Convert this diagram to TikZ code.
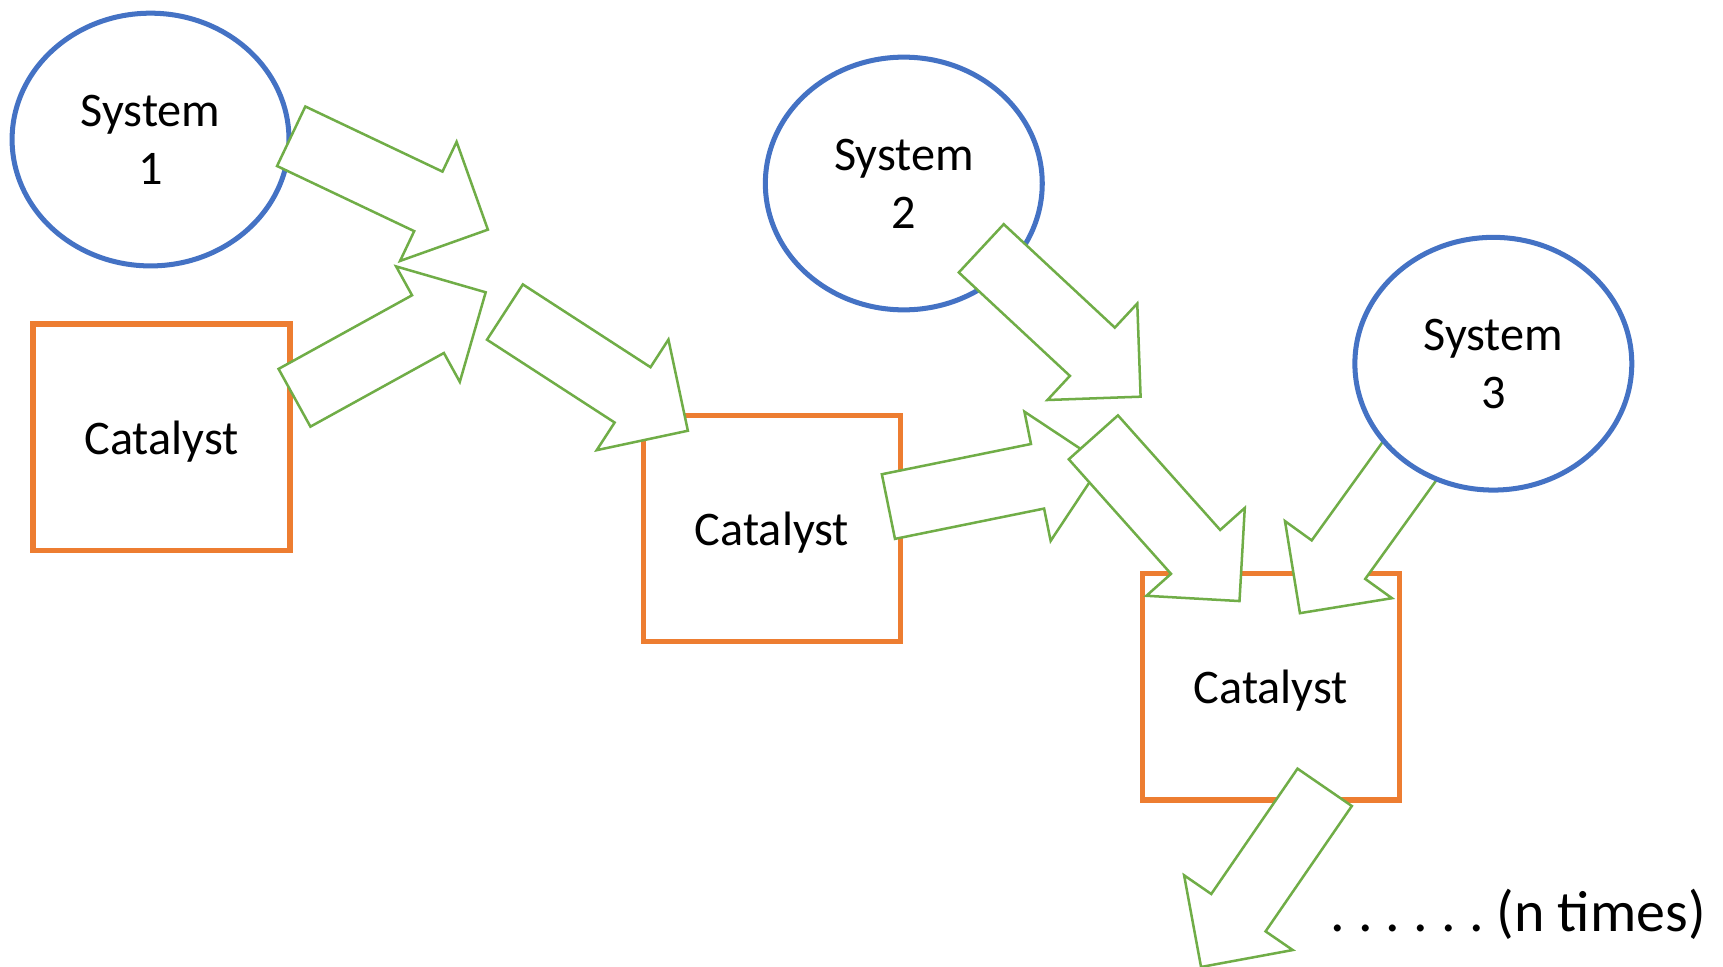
\documentclass[tikz,border=0pt]{standalone}
\usepackage{fontspec}
\setmainfont{Carlito}
\usetikzlibrary{shapes.geometric,calc}
\definecolor{sysblue}{HTML}{4472C4}
\definecolor{catorange}{HTML}{ED7D31}
\definecolor{flowgreen}{HTML}{70AD47}

% block arrow from tail coordinate #1 to tip coordinate #2
\newcommand{\flowarrow}[2]{%
  \coordinate (#2Base) at ($(#2)!0.6cm!(#1)$);
  \draw[flow] ($(#1)!0.3cm!90:(#2)$) -- ($(#2Base)!0.3cm!90:(#2)$) -- ($(#2Base)!0.6cm!90:(#2)$) -- (#2)
    -- ($(#2Base)!0.6cm!-90:(#2)$) -- ($(#2Base)!0.3cm!-90:(#2)$) -- ($(#1)!0.3cm!-90:(#2)$) -- cycle;
}

\begin{document}
\begin{tikzpicture}[x=0.1mm, y=-0.1mm,
    every node/.style={font=\fontsize{12.5}{15}\selectfont},
    system/.style={ellipse, draw=sysblue, line width=1.3pt, fill=white, minimum width=2.52cm, minimum height=2.3cm, align=center, inner sep=0pt},
    catalyst/.style={rectangle, draw=catorange, line width=1.4pt, fill=white, minimum width=2.34cm, minimum height=2.06cm, text depth=0pt},
    flow/.style={draw=flowgreen, line width=0.65pt, fill=white}]{
    \useasboundingbox (0,0) rectangle (1568,880);

    \node [system] (System1) at (137,127) {System\\1};
    \node [catalyst] (Catalyst1) at (147,398) {Catalyst};
    \coordinate (ATail) at (265,124);    \coordinate (ATip) at (444,209);
    \coordinate (BTail) at (268,362);    \coordinate (BTip) at (442,266);
    \flowarrow{ATail}{ATip}
    \flowarrow{BTail}{BTip}

    \node [catalyst] (Catalyst2) at (702.5,481) {Catalyst};
    \node [system] (System2) at (822.5,167) {System\\2};
    \coordinate (CTail) at (459.5,284);  \coordinate (CTip) at (626,392);
    \coordinate (DTail) at (893,226);    \coordinate (DTip) at (1038,361);
    \coordinate (ETail) at (808.5,461);  \coordinate (ETip) at (1003,421.5);
    \flowarrow{CTail}{CTip}
    \flowarrow{DTail}{DTip}
    \flowarrow{ETail}{ETip}

    \node [catalyst] (Catalyst3) at (1156.5,625) {Catalyst};
    \coordinate (FTail) at (995,398);    \coordinate (FTip) at (1128,547);
    \coordinate (GTail) at (1299,397);   \coordinate (GTip) at (1183,558);
    \coordinate (HTail) at (1205.5,716.5); \coordinate (HTip) at (1093,880);
    \flowarrow{FTail}{FTip}
    \flowarrow{GTail}{GTip}
    \node [system] (System3) at (1359,331) {System\\3};
    \flowarrow{HTail}{HTip}

    \node [anchor=base east, inner sep=0pt, font=\fontsize{15}{18}\selectfont] (NTimes) at (1553,848)
      {.\hspace{3.4pt}.\hspace{3.4pt}.\hspace{3.4pt}.\hspace{3.4pt}.\hspace{3.4pt}.\hspace{3.4pt}(n times)};
}
\end{tikzpicture}
\end{document}
